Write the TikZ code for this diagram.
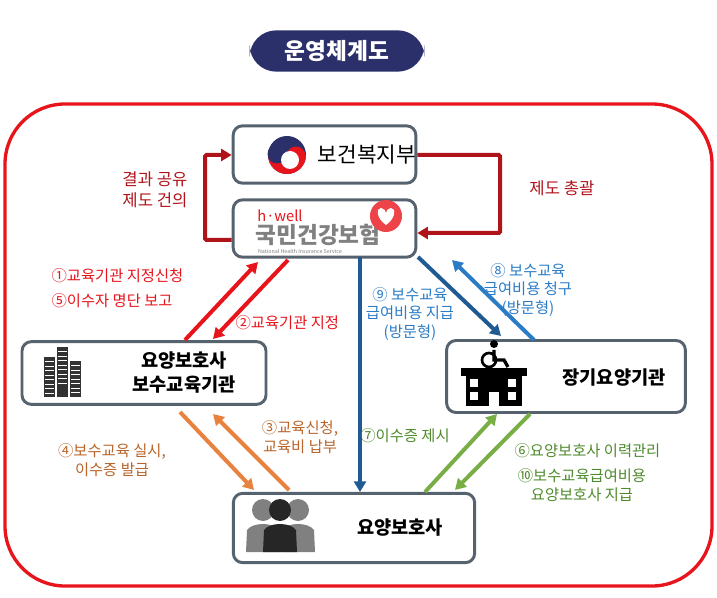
\documentclass[tikz,border=0pt]{standalone}
\usepackage{fontspec}
\setmainfont{Noto Sans CJK KR}
\usepackage{xcolor}
\usetikzlibrary{arrows.meta}
\definecolor{boxline}{HTML}{56626E}
\definecolor{navy}{HTML}{2B2F6A}
\definecolor{darkred}{HTML}{B0141B}
\definecolor{brightred}{HTML}{E8141C}
\definecolor{blueA}{HTML}{1F5A93}
\definecolor{blueB}{HTML}{2B7CC6}
\definecolor{orangeA}{HTML}{E9823E}
\definecolor{orangeT}{HTML}{B8642A}
\definecolor{greenA}{HTML}{78AE45}
\definecolor{greenT}{HTML}{4E8A2C}
\tikzset{
  box/.style={draw=boxline,line width=2.2pt,rounded corners=7pt,fill=white},
  flow/.style={line width=3pt,-{Triangle[length=8pt,width=9pt]}},
  lbl/.style={font=\fontsize{11.5}{14}\selectfont,align=center,inner sep=1pt},
}
\begin{document}
\begin{tikzpicture}[x=0.75pt,y=-0.75pt]
\useasboundingbox (0,0) rectangle (717,598);
% frame and title
\draw[brightred,line width=2.5pt,rounded corners=45pt] (5,104) rectangle (712,586);
\node[fill=navy,rounded corners=20pt,minimum width=131pt,minimum height=31pt,text=white,
  font=\fontsize{17}{19}\selectfont\bfseries] (title) at (337,51) {운영체계도};
% boxes
\node[box,minimum width=137pt,minimum height=43pt] (mohw) at (324.5,154.5) {};
\node[box,minimum width=137pt,minimum height=43pt] (nhis) at (324.5,228.5) {};
\node[box,minimum width=183pt,minimum height=47pt] (edu) at (144,373) {};
\node[box,minimum width=179pt,minimum height=54pt] (care) at (566,376.5) {};
\node[box,minimum width=181pt,minimum height=52pt] (worker) at (354,528) {};
% box contents
\node[font=\fontsize{16}{18}\selectfont] (mohwtxt) at (367,155) {보건복지부};
\fill[navy] (287,155) circle (19);
\fill[brightred] (287,155) ++(-19,0) arc (180:0:19) -- cycle;
\fill[navy] (277,154) circle (9.5) ;
\fill[brightred] (296,156) circle (9.5);
\fill[white] (290,160) circle (9);
\node[brightred,font=\itshape\fontsize{11}{12}\selectfont] (hwell) at (280,216) {h·well};
\node[gray,font=\fontsize{17}{18}\selectfont\bfseries] (nhistxt) at (318,235) {국민건강보험};
\node[gray,font=\fontsize{4}{5}\selectfont] (nhissub) at (300,251) {National Health Insurance Service};
\fill[brightred!80] (386,216) circle (16);
\fill[white] (386,225) .. controls (376,218) and (376,208) .. (381,208) .. controls (384,208) and (386,211) .. (386,213)
  .. controls (386,211) and (388,208) .. (391,208) .. controls (396,208) and (396,218) .. (386,225) -- cycle;
\node[font=\fontsize{14}{18}\selectfont\bfseries,align=center] (edutxt) at (184,373) {요양보호사\\보수교육기관};
\foreach \i/\h in {0/40,1/50,2/36}{
  \fill[black!80] (44+\i*13,397-\h) rectangle (55+\i*13,397);
  \foreach \r in {1,...,8} \draw[white,line width=0.6pt] (45+\i*13,397-\h+\r*4.5) -- (54+\i*13,397-\h+\r*4.5);
}
\node[font=\fontsize{14}{16}\selectfont\bfseries] (caretxt) at (614,378) {장기요양기관};
\fill[black] (466,375) rectangle (522,406);
\fill[black] (461,368) rectangle (527,376);
\foreach \cx in {474,512} \foreach \cy in {383,396} \fill[white] (\cx-4,\cy-4) rectangle (\cx+4,\cy+4);
\fill[white] (489,392) rectangle (499,406);
\fill[black] (494,344) circle (4);
\draw[black,line width=2.5pt] (494,350) -- (494,360) -- (504,360) -- (508,367);
\draw[black,line width=2pt] (489,360) circle (7);
\node[font=\fontsize{14}{16}\selectfont\bfseries] (workertxt) at (400,528) {요양보호사};
\foreach \px/\c in {263/gray,298/gray,280/black!85}{
  \fill[\c] (\px,510) circle (11);
  \fill[\c] (\px-17,552) -- (\px-16,530) .. controls (\px-10,522) and (\px+10,522) .. (\px+16,530) -- (\px+17,552) -- cycle;
}
% MoHW <-> NHIS
\draw[darkred,flow,rounded corners=1pt] (nhis.west |- 0,240) -- (205,240) -- (205,155) -- (mohw.west |- 0,155);
\draw[darkred,flow,rounded corners=1pt] (mohw.east |- 0,155) -- (500,155) -- (500,233) -- (nhis.east |- 0,233);
\node[lbl,darkred,font=\fontsize{12.5}{16}\selectfont] (shareLbl) at (155,190) {결과 공유\\제도 건의};
\node[lbl,darkred,font=\fontsize{12.5}{16}\selectfont] (ruleLbl) at (562,188) {제도 총괄};
% NHIS <-> edu
\draw[brightred,flow] (185,340) -- (258,262);
\draw[brightred,flow] (288,260) -- (213,339);
\node[lbl,brightred,anchor=west] (l1) at (50,276) {①교육기관 지정신청};
\node[lbl,brightred,anchor=west] (l5) at (50,301) {⑤이수자 명단 보고};
\node[lbl,brightred,anchor=west] (l2) at (234,323) {②교육기관 지정};
% NHIS -> worker
\draw[blueA,flow] (360,257) -- (360,492);
% NHIS <-> care
\draw[blueA,flow] (418,257) -- (501,336);
\draw[blueB,flow] (534,340) -- (452,260);
\node[lbl,blueB] (l9) at (410,314) {⑨ 보수교육\\급여비용 지급\\(방문형)};
\node[lbl,blueB] (l8) at (528,290) {⑧ 보수교육\\급여비용 청구\\(방문형)};
% edu <-> worker
\draw[orangeA,flow] (180,412) -- (254,490);
\draw[orangeA,flow] (289,490) -- (213,414);
\node[lbl,orangeT] (l4) at (112,460) {④보수교육 실시,\\이수증 발급};
\node[lbl,orangeT] (l3) at (300,437) {③교육신청,\\교육비 납부};
% worker <-> care
\draw[greenA,flow] (425,492) -- (497,414);
\draw[greenA,flow] (530,414) -- (455,490);
\node[lbl,greenT] (l7) at (405,436) {⑦이수증 제시};
\node[lbl,greenT,anchor=west] (l6) at (513,451) {⑥요양보호사 이력관리};
\node[lbl,greenT] (l10) at (582,485) {⑩보수교육급여비용\\요양보호사 지급};
\end{tikzpicture}
\end{document}
